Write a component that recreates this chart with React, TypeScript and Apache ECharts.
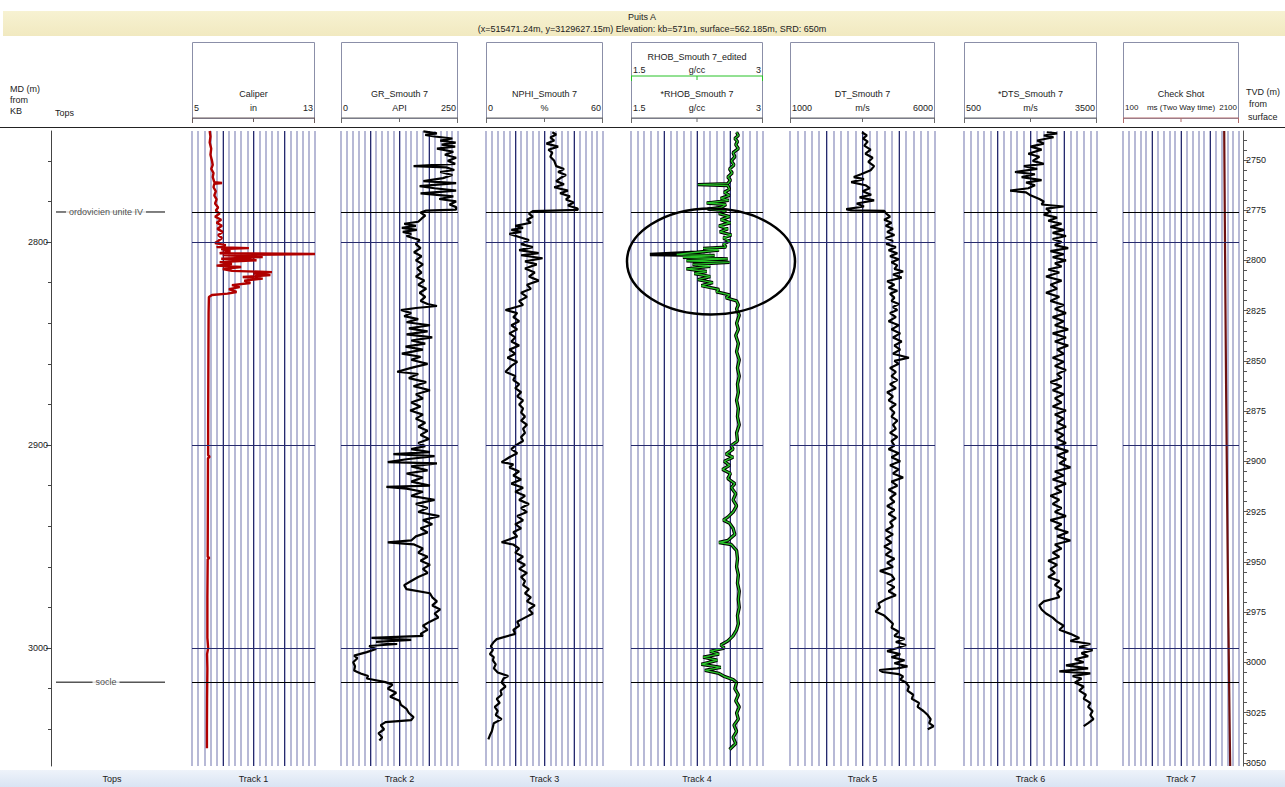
import React, { useEffect, useRef } from "react";
import * as echarts from "echarts";

const FONT = "'Liberation Sans Narrow', 'Liberation Sans', Arial, sans-serif";

// ---- well header ----
const wellName = "Puits A";
const wellInfo = "(x=515471.24m, y=3129627.15m) Elevation: kb=571m, surface=562.185m, SRD: 650m";

// ---- depth windows (m) ----
const mdWindow = [2745.3, 3058.1];
const tvdWindow = [2735.6, 3051.5];
const mdLabelValues = [2800, 2900, 3000];
const mdMinorValues = [2760, 2780, 2800, 2820, 2840, 2860, 2880, 2900, 2920, 2940, 2960, 2980, 3000, 3020, 3040];
const tvdLabelValues = [2750, 2775, 2800, 2825, 2850, 2875, 2900, 2925, 2950, 2975, 3000, 3025, 3050];
const tvdMinorValues: number[] = [];
for (let v = 2740; v <= 3050; v += 5) tvdMinorValues.push(v);

// ---- formation tops and reference depths (MD) ----
const topNames = ["ordovicien unite IV", "socle"];
const topDepths = [2785.2, 3016.8];
const refDepths = [2800, 2900, 3000];

// ---- track layout ----
const trackLeft = [192, 341, 486, 631, 790, 964, 1123];
const trackWidth = [123, 117, 117, 132, 145, 133, 116];
const trackNames = ["Track 1", "Track 2", "Track 3", "Track 4", "Track 5", "Track 6", "Track 7"];

// ---- curve scales ----
const curveTitles = ["Caliper", "GR_Smouth 7", "NPHI_Smouth 7", "*RHOB_Smouth 7", "DT_Smouth 7", "*DTS_Smouth 7", "Check Shot"];
const curveUnits = ["in", "API", "%", "g/cc", "m/s", "m/s", "ms (Two Way time)"];
const curveMin = [5, 0, 0, 1.5, 1000, 500, 100];
const curveMax = [13, 250, 60, 3, 6000, 3500, 2100];
const curveMinText = ["5", "0", "0", "1.5", "1000", "500", "100"];
const curveMaxText = ["13", "250", "60", "3", "6000", "3500", "2100"];
const curveColors = ["#b00000", "#000000", "#000000", "#000000", "#000000", "#000000", "#6e1010"];
const scaleColors = ["#6b5a5a", "#6a6a6a", "#6a6a6a", "#6a6a6a", "#6a6a6a", "#6a6a6a", "#b06a6a"];
const editedTitle = "RHOB_Smouth 7_edited";
const editedUnit = "g/cc";
const editedColor = "#27c227";

// ---- log curves: [MD (m), value] ----
const caliper: [number, number][] = [
  [2745.3, 6.15], [2748, 6.2], [2751, 6.15], [2754, 6.25], [2757, 6.2], [2760, 6.3], [2762, 6.35], [2764, 6.25],
  [2766, 6.4], [2768, 6.35], [2770.5, 6.45], [2770.9, 6.95], [2771.3, 6.45], [2773, 6.4], [2775, 6.55], [2777, 6.45],
  [2779, 6.6], [2781, 6.5], [2783, 6.7], [2784.5, 6.55], [2786, 6.8], [2787.5, 6.5], [2789, 6.9], [2790.5, 6.6],
  [2792, 6.95], [2793.5, 6.65], [2795, 7.0], [2796.5, 6.7], [2798, 6.95], [2799.5, 6.7], [2800.5, 6.5], [2801.5, 7.2],
  [2802.5, 6.6], [2803.0, 8.7], [2803.5, 6.9], [2804.5, 7.5], [2805.5, 6.8], [2805.9, 13.0], [2806.4, 7.0], [2807.4, 9.6],
  [2808.2, 6.9], [2809.0, 9.2], [2809.9, 6.8], [2810.8, 7.6], [2811.6, 6.6], [2812.3, 8.2], [2813.3, 7.0], [2814.2, 7.6],
  [2814.8, 10.2], [2815.5, 9.0], [2816.3, 10.1], [2817.2, 8.3], [2818.0, 9.6], [2819.0, 8.4], [2820.2, 8.8], [2821.2, 7.6],
  [2822.2, 8.1], [2823.2, 7.4], [2824.6, 7.9], [2825.4, 7.3], [2826.1, 6.3], [2827.1, 6.1], [2835, 6.08], [2850, 6.07],
  [2870, 6.06], [2890, 6.05], [2905, 6.05], [2905.8, 6.15], [2906.5, 6.04], [2930, 6.03], [2955, 6.02], [2955.6, 6.13],
  [2956.3, 6.02], [2975, 6.0], [2995, 6.0], [3000, 6.05], [3003, 5.98], [3010, 6.0], [3025, 5.98], [3040, 5.97], [3049.3, 5.97],
];

const gammaRay: [number, number][] = [
  [2745.5, 176], [2746.5, 205], [2747.2, 180], [2748.0, 200], [2749.0, 238], [2750.0, 212], [2751.0, 245], [2752.0, 215],
  [2753.0, 244], [2754.0, 205], [2755.5, 240], [2757.0, 222], [2758.5, 246], [2760.0, 228], [2761.5, 244], [2762.6, 155],
  [2763.2, 225], [2764.5, 242], [2765.5, 212], [2767.0, 238], [2768.5, 218], [2770.0, 176], [2771.0, 246], [2772.5, 168],
  [2773.5, 200], [2774.7, 246], [2776.0, 170], [2777.5, 240], [2778.8, 210], [2780.0, 246], [2781.5, 232], [2782.8, 246],
  [2784.0, 246], [2784.5, 182], [2785.5, 170], [2787.0, 180], [2788.5, 172], [2790.0, 165], [2791.0, 135], [2792.0, 160],
  [2793.0, 130], [2794.0, 162], [2795.0, 132], [2796.0, 150], [2797.0, 140], [2799.0, 168], [2801.0, 160], [2803.0, 170],
  [2805.0, 156], [2807.0, 172], [2809.0, 160], [2811.0, 175], [2813.0, 163], [2815.0, 172], [2817.0, 160], [2819.0, 178],
  [2821.0, 165], [2823.0, 182], [2825.0, 168], [2827.0, 180], [2829.0, 170], [2830.5, 185], [2831.5, 205], [2832.5, 160],
  [2833.5, 128], [2835.0, 150], [2836.5, 135], [2838.0, 165], [2839.5, 140], [2841.0, 190], [2842.5, 145], [2844.0, 185],
  [2845.5, 140], [2847.0, 195], [2848.5, 150], [2850.0, 180], [2851.5, 138], [2853.0, 175], [2855.0, 130], [2856.5, 170],
  [2858.0, 150], [2860.0, 185], [2862.0, 150], [2863.9, 120], [2865.0, 165], [2867.0, 145], [2869.0, 182], [2871.0, 155],
  [2873.0, 190], [2875.0, 160], [2877.0, 175], [2879.0, 150], [2881.0, 170], [2883.0, 148], [2885.0, 175], [2887.0, 160],
  [2889.0, 180], [2891.0, 165], [2893.0, 185], [2895.0, 170], [2897.0, 188], [2899.0, 165], [2900.5, 180], [2902.0, 150],
  [2903.5, 190], [2904.5, 112], [2905.5, 200], [2907.0, 140], [2908.4, 100], [2909.0, 205], [2910.5, 150], [2912.5, 185],
  [2914.0, 140], [2916.0, 175], [2918.0, 150], [2920.0, 190], [2920.6, 97], [2921.5, 140], [2923.0, 175], [2925.0, 150],
  [2927.0, 200], [2929.0, 160], [2931.0, 185], [2933.0, 165], [2935.0, 210], [2937.0, 175], [2939.0, 195], [2941.0, 170],
  [2943.0, 185], [2945.0, 160], [2947.0, 150], [2947.9, 100], [2948.9, 155], [2951.0, 175], [2953.0, 165], [2955.0, 185],
  [2957.0, 170], [2959.0, 190], [2961.0, 175], [2963.0, 185], [2965.0, 165], [2967.0, 150], [2969.0, 135], [2971.0, 140],
  [2973.0, 190], [2975.0, 195], [2977.0, 205], [2979.0, 195], [2981.0, 212], [2983.0, 200], [2985.0, 208], [2987.0, 190],
  [2989.0, 175], [2991.0, 185], [2993.0, 170], [2994.0, 175], [2995.0, 65], [2996.0, 150], [2997.0, 75], [2998.0, 120],
  [2999.0, 60], [3000.5, 75], [3002.0, 55], [3003.7, 28], [3005.0, 35], [3007.0, 26], [3009.0, 30], [3011.0, 28],
  [3012.5, 42], [3013.8, 58], [3015.0, 55], [3016.8, 95], [3018.0, 110], [3020.0, 100], [3022.0, 118], [3024.0, 105],
  [3026.0, 125], [3028.0, 128], [3030.0, 140], [3032.0, 145], [3034.0, 155], [3035.5, 150], [3036.5, 95], [3038.0, 85],
  [3040.0, 92], [3042.0, 80], [3044.0, 88], [3045.5, 82],
];

const neutron: [number, number][] = [
  [2745.9, 34], [2747.0, 36], [2748.5, 33], [2750.0, 35], [2751.5, 31], [2753.0, 37], [2754.5, 32], [2756.0, 34],
  [2758.0, 33], [2760.0, 35], [2762.6, 36], [2764.0, 40], [2765.5, 37], [2767.0, 41], [2768.6, 38], [2770.0, 36],
  [2771.5, 40], [2773.0, 35], [2774.7, 42], [2776.0, 38], [2777.5, 43], [2779.0, 41], [2780.5, 45], [2782.0, 42],
  [2783.5, 47], [2784.2, 47], [2784.5, 34], [2784.8, 24], [2786.0, 22], [2787.5, 24], [2789.0, 21], [2790.5, 23],
  [2792.0, 15], [2793.0, 19], [2794.0, 13], [2795.0, 18], [2796.0, 12], [2797.5, 17], [2799.0, 22], [2801.0, 18],
  [2802.5, 24], [2804.0, 17], [2805.5, 27], [2806.5, 18], [2808.0, 29], [2809.5, 20], [2811.0, 26], [2813.0, 20],
  [2815.0, 25], [2817.0, 22], [2819.0, 27], [2821.0, 21], [2823.0, 23], [2825.0, 18], [2827.0, 21], [2829.0, 17],
  [2831.0, 19], [2833.5, 10], [2835.0, 16], [2837.0, 14], [2839.0, 17], [2841.0, 13], [2843.0, 16], [2845.0, 12],
  [2847.0, 15], [2849.0, 13], [2851.0, 17], [2853.0, 12], [2855.0, 15], [2857.0, 11], [2859.0, 16], [2861.0, 13],
  [2863.9, 10], [2866.0, 15], [2868.0, 14], [2870.0, 17], [2872.0, 15], [2874.0, 18], [2876.0, 16], [2878.0, 19],
  [2880.0, 17], [2882.0, 19], [2884.0, 18], [2886.0, 20], [2888.0, 18], [2890.0, 21], [2892.0, 19], [2894.0, 20],
  [2896.0, 18], [2898.0, 19], [2900.3, 15], [2902.0, 13], [2904.0, 16], [2906.0, 12], [2908.4, 8], [2909.5, 14],
  [2911.0, 12], [2913.0, 17], [2915.0, 14], [2917.0, 18], [2919.0, 13], [2921.0, 19], [2923.0, 15], [2925.0, 20],
  [2927.0, 17], [2929.0, 22], [2931.0, 18], [2933.0, 21], [2935.0, 16], [2937.0, 19], [2939.0, 15], [2941.0, 18],
  [2943.0, 14], [2945.0, 16], [2947.9, 8], [2949.0, 14], [2951.0, 17], [2953.0, 15], [2955.0, 19], [2957.0, 16],
  [2959.0, 20], [2961.0, 17], [2963.0, 21], [2965.0, 18], [2967.0, 20], [2969.0, 19], [2971.0, 22], [2973.0, 20],
  [2975.0, 23], [2977.0, 21], [2979.0, 25], [2981.0, 22], [2983.0, 24], [2985.0, 20], [2987.0, 16], [2989.0, 17],
  [2991.0, 14], [2993.0, 15], [2995.6, 5.5], [2997.0, 4], [2999.0, 2.5], [3001.0, 3.5], [3003.0, 2], [3004.5, 4],
  [3006.0, 3.5], [3008.0, 5], [3010.0, 4], [3012.0, 6], [3013.8, 11.4], [3015.0, 9], [3017.0, 8], [3019.0, 10],
  [3021.0, 7.5], [3023.0, 8], [3025.0, 5.5], [3027.0, 7], [3029.0, 4.5], [3031.0, 6], [3033.0, 5], [3035.0, 8],
  [3037.0, 4], [3039.0, 3.5], [3041.0, 3], [3043.0, 2], [3045.0, 1.2],
];

const density: [number, number][] = [
  [2745.9, 2.70], [2747.5, 2.72], [2749.0, 2.68], [2750.5, 2.71], [2752.0, 2.69], [2754.0, 2.72], [2756.0, 2.66], [2758.0, 2.68],
  [2760.0, 2.64], [2762.0, 2.67], [2764.0, 2.62], [2766.0, 2.65], [2768.0, 2.60], [2769.5, 2.63], [2771.2, 2.60], [2771.7, 2.26],
  [2772.2, 2.60], [2774.0, 2.62], [2775.5, 2.56], [2777.0, 2.62], [2778.5, 2.52], [2779.5, 2.61], [2780.8, 2.36], [2781.5, 2.58],
  [2783.0, 2.52], [2783.8, 2.37], [2784.5, 2.58], [2786.0, 2.50], [2787.5, 2.62], [2789.0, 2.52], [2790.5, 2.63], [2792.0, 2.50],
  [2793.5, 2.60], [2795.0, 2.51], [2796.5, 2.64], [2798.0, 2.55], [2799.5, 2.62], [2801.0, 2.55], [2802.5, 2.58], [2803.1, 2.32],
  [2804.0, 2.50], [2805.0, 2.25], [2806.1, 1.715], [2806.6, 2.45], [2807.5, 2.09], [2808.3, 2.60], [2809.2, 2.13], [2810.0, 2.62],
  [2811.0, 2.20], [2812.0, 2.40], [2813.2, 2.13], [2814.5, 2.36], [2815.5, 2.22], [2817.0, 2.40], [2818.5, 2.26], [2820.0, 2.43],
  [2821.5, 2.30], [2823.3, 2.50], [2824.5, 2.47], [2826.0, 2.62], [2827.5, 2.58], [2829.0, 2.70], [2831.0, 2.72], [2833.0, 2.70],
  [2836.0, 2.73], [2840.0, 2.70], [2843.0, 2.72], [2846.0, 2.69], [2850.0, 2.72], [2854.0, 2.70], [2858.0, 2.73], [2862.0, 2.71],
  [2866.0, 2.73], [2870.0, 2.71], [2874.0, 2.72], [2878.0, 2.70], [2882.0, 2.72], [2886.0, 2.71], [2890.0, 2.73], [2894.0, 2.70],
  [2898.0, 2.71], [2900.3, 2.64], [2902.0, 2.66], [2904.5, 2.58], [2906.0, 2.66], [2908.0, 2.56], [2910.0, 2.62], [2912.0, 2.54],
  [2914.0, 2.63], [2916.5, 2.60], [2919.0, 2.68], [2921.0, 2.64], [2924.0, 2.69], [2927.0, 2.66], [2930.0, 2.70], [2933.0, 2.66],
  [2935.5, 2.60], [2937.0, 2.55], [2938.5, 2.62], [2941.0, 2.66], [2944.0, 2.68], [2947.0, 2.60], [2948.0, 2.50], [2949.0, 2.64],
  [2952.0, 2.70], [2956.0, 2.71], [2960.0, 2.70], [2964.0, 2.72], [2968.0, 2.71], [2972.0, 2.73], [2976.0, 2.72], [2980.0, 2.73],
  [2984.0, 2.71], [2988.0, 2.72], [2991.0, 2.70], [2994.0, 2.66], [2996.5, 2.60], [2998.5, 2.52], [3000.0, 2.56], [3001.6, 2.40],
  [3003.0, 2.50], [3004.5, 2.32], [3006.0, 2.48], [3008.0, 2.30], [3009.5, 2.52], [3011.0, 2.34], [3012.5, 2.50], [3014.0, 2.56],
  [3015.5, 2.66], [3017.0, 2.70], [3020.0, 2.68], [3023.0, 2.72], [3026.0, 2.69], [3029.0, 2.73], [3032.0, 2.70], [3035.0, 2.72],
  [3038.0, 2.67], [3041.0, 2.70], [3044.0, 2.66], [3047.0, 2.69], [3050.0, 2.62],
];

// edited density: the washout spike replaced
const densityEdits: [number, number][] = [[2806.1, 2.02]];

const sonic: [number, number][] = [
  [2745.9, 3480], [2747.5, 3650], [2749.0, 3520], [2750.5, 3680], [2752.5, 3560], [2754.5, 3780], [2756.5, 3600], [2758.5, 3850],
  [2760.5, 3700], [2762.6, 3900], [2764.6, 3780], [2766.6, 3450], [2768.0, 3200], [2769.0, 3550], [2770.5, 3110], [2772.0, 3600],
  [2773.5, 3750], [2775.0, 3500], [2776.7, 3800], [2778.0, 3400], [2779.5, 3900], [2781.0, 3300], [2782.5, 3550], [2783.8, 2940],
  [2784.4, 3100], [2784.6, 4250], [2786.0, 4320], [2787.5, 4450], [2789.0, 4250], [2790.5, 4500], [2792.0, 4300], [2793.5, 4550],
  [2795.0, 4350], [2796.5, 4600], [2798.0, 4300], [2799.5, 4550], [2801.0, 4320], [2802.5, 4650], [2804.0, 4400], [2805.5, 4700],
  [2807.0, 4450], [2808.5, 4750], [2810.0, 4500], [2811.5, 4700], [2813.2, 4600], [2814.5, 4900], [2816.0, 4550], [2817.5, 4850],
  [2819.3, 4350], [2821.0, 4600], [2822.5, 4400], [2824.0, 4700], [2825.5, 4450], [2827.4, 4600], [2829.0, 4500], [2830.5, 4750],
  [2832.0, 4550], [2833.5, 4700], [2835.0, 4450], [2837.0, 4650], [2839.0, 4400], [2841.0, 4750], [2843.0, 4500], [2845.0, 4800],
  [2847.0, 4550], [2849.0, 4850], [2851.0, 4600], [2853.0, 4800], [2855.0, 4550], [2857.0, 5100], [2858.5, 4600], [2860.0, 4750],
  [2862.0, 4450], [2864.0, 4650], [2866.0, 4500], [2868.0, 4700], [2870.0, 4450], [2872.0, 4650], [2874.0, 4350], [2876.0, 4550],
  [2878.0, 4400], [2880.0, 4650], [2882.0, 4450], [2884.0, 4600], [2886.0, 4500], [2888.0, 4700], [2890.0, 4550], [2892.0, 4650],
  [2894.0, 4450], [2896.0, 4700], [2898.0, 4500], [2900.3, 4600], [2902.0, 4400], [2904.0, 4750], [2906.0, 4500], [2908.0, 4800],
  [2910.0, 4450], [2912.0, 4750], [2914.0, 4550], [2916.0, 4900], [2918.0, 4500], [2920.0, 4700], [2922.0, 4400], [2924.0, 4650],
  [2926.0, 4450], [2928.0, 4600], [2930.0, 4350], [2932.0, 4600], [2934.0, 4400], [2936.0, 4650], [2938.0, 4450], [2940.0, 4550],
  [2942.0, 4300], [2944.0, 4550], [2946.0, 4300], [2948.0, 4500], [2950.0, 4250], [2952.0, 4500], [2954.0, 4300], [2956.0, 4600],
  [2958.0, 4350], [2960.0, 4550], [2962.0, 4100], [2964.0, 4500], [2966.0, 4600], [2968.0, 4350], [2970.0, 4600], [2972.0, 4400],
  [2974.0, 4650], [2976.0, 4300], [2978.0, 4050], [2980.0, 4100], [2982.0, 3950], [2984.0, 4250], [2986.0, 4400], [2988.0, 4550],
  [2990.0, 4500], [2992.0, 4750], [2994.0, 4600], [2995.5, 4950], [2997.0, 4650], [2998.5, 5000], [3000.0, 4700], [3001.5, 4350],
  [3003.0, 4800], [3004.5, 4500], [3006.0, 4950], [3007.5, 4600], [3009.0, 5050], [3010.0, 4700], [3010.8, 4080], [3011.8, 4200],
  [3012.8, 4750], [3014.0, 4900], [3015.5, 4800], [3017.0, 5000], [3019.0, 5100], [3021.0, 5050], [3023.0, 5250], [3025.0, 5200],
  [3027.0, 5450], [3029.0, 5400], [3031.0, 5600], [3033.0, 5750], [3035.0, 5850], [3037.0, 5800], [3038.5, 5950], [3040.0, 5750],
];

const shearSonic: [number, number][] = [
  [2745.9, 2367], [2746.5, 2600], [2747.5, 2300], [2748.4, 2520], [2750.0, 2150], [2751.5, 2300], [2753.0, 2000], [2754.5, 2250],
  [2756.5, 1950], [2758.0, 2200], [2760.0, 2050], [2761.5, 2300], [2762.6, 1850], [2764.0, 2150], [2765.5, 1650], [2766.6, 2100],
  [2768.0, 1800], [2769.5, 2250], [2770.7, 1900], [2772.0, 2100], [2773.5, 1950], [2774.7, 1540], [2775.5, 1900], [2777.0, 2000],
  [2778.8, 2200], [2780.0, 2300], [2781.5, 2250], [2782.5, 2750], [2783.5, 2350], [2785.0, 2450], [2786.5, 2300], [2788.0, 2600],
  [2789.5, 2400], [2791.0, 2700], [2792.5, 2450], [2794.0, 2750], [2795.5, 2500], [2797.0, 2800], [2798.5, 2500], [2800.0, 2700],
  [2801.5, 2550], [2803.0, 2850], [2804.5, 2450], [2806.0, 2750], [2807.5, 2500], [2809.0, 2800], [2810.5, 2550], [2812.0, 2700],
  [2813.5, 2400], [2815.0, 2650], [2817.0, 2350], [2819.0, 2700], [2821.0, 2450], [2823.0, 2600], [2825.0, 2350], [2827.0, 2650],
  [2829.0, 2450], [2831.0, 2750], [2833.0, 2550], [2835.0, 2800], [2837.0, 2500], [2839.0, 2750], [2841.0, 2550], [2843.0, 2850],
  [2845.0, 2500], [2847.0, 2800], [2849.0, 2550], [2851.0, 2850], [2853.0, 2600], [2855.0, 2750], [2857.0, 2500], [2859.0, 2750],
  [2861.0, 2550], [2863.0, 2800], [2865.0, 2600], [2867.0, 2700], [2869.0, 2450], [2871.0, 2700], [2873.0, 2500], [2875.0, 2750],
  [2877.0, 2550], [2879.0, 2700], [2881.0, 2500], [2883.0, 2800], [2885.0, 2550], [2887.0, 2750], [2889.0, 2600], [2891.0, 2800],
  [2893.0, 2550], [2895.0, 2750], [2897.0, 2600], [2899.0, 2800], [2901.0, 2550], [2903.0, 2850], [2905.0, 2600], [2907.0, 2800],
  [2909.0, 2650], [2911.0, 2900], [2913.0, 2550], [2915.0, 2750], [2917.0, 2500], [2919.0, 2800], [2921.0, 2550], [2923.0, 2700],
  [2925.0, 2450], [2927.0, 2650], [2929.0, 2500], [2931.0, 2700], [2933.0, 2550], [2935.0, 2800], [2937.0, 2450], [2939.0, 2700],
  [2941.0, 2550], [2943.0, 2850], [2945.0, 2600], [2947.0, 2900], [2949.0, 2550], [2951.0, 2700], [2953.0, 2500], [2955.0, 2650],
  [2957.0, 2400], [2959.0, 2600], [2961.0, 2450], [2963.0, 2550], [2965.0, 2400], [2967.0, 2650], [2969.0, 2550], [2971.0, 2700],
  [2973.0, 2600], [2975.0, 2650], [2977.0, 2300], [2979.0, 2200], [2981.0, 2250], [2983.0, 2350], [2985.0, 2500], [2987.0, 2600],
  [2989.0, 2750], [2991.0, 2650], [2993.0, 2900], [2995.0, 3100], [2996.5, 2900], [2998.0, 3350], [2999.5, 3100], [3001.0, 3400],
  [3002.5, 3150], [3004.0, 3300], [3005.5, 3000], [3007.0, 3200], [3008.5, 2800], [3010.0, 3300], [3011.5, 2650], [3012.5, 3350],
  [3013.8, 2950], [3015.0, 3150], [3017.0, 3000], [3019.0, 3200], [3021.0, 3100], [3023.0, 3250], [3025.0, 3200], [3027.0, 3350],
  [3029.0, 3300], [3031.0, 3400], [3033.0, 3350], [3035.0, 3420], [3037.0, 3300], [3038.5, 3200],
];

const checkShot: [number, number][] = [
  [2745.3, 1845], [2790, 1856], [2830, 1866], [2870, 1877], [2910, 1890], [2950, 1903], [2990, 1918], [3030, 1935], [3058.1, 1948],
];

// ---- chart geometry ----
const PLOT_TOP = 131;
const PLOT_H = 635;
const HEAD_TOP = 42;
const HEAD_SCALE_Y = 118;
const NAVY = "#262a6c";
const LAVENDER = "#b7b9d6";

const toXY = (rows: [number, number][]) => rows.map(([d, v]) => [v, d]);
const plain = (v: number) => String(v);

function buildOption(): echarts.EChartsCoreOption {
  const grids: any[] = [];
  const xAxes: any[] = [];
  const yAxes: any[] = [];
  const series: any[] = [];

  const depthMarks = {
    symbol: ["none", "none"],
    silent: true,
    label: { show: false },
    data: [
      ...topDepths.map((d) => ({ yAxis: d, lineStyle: { color: "#000", width: 1, type: "solid" } })),
      ...refDepths.map((d) => ({ yAxis: d, lineStyle: { color: NAVY, width: 1, type: "solid" } })),
    ],
  };

  const editedDensity = density.map(([d, v]) => {
    const hit = densityEdits.find(([ed]) => ed === d);
    return [d, hit ? hit[1] : v] as [number, number];
  });
  const curves: [number, number][][] = [caliper, gammaRay, neutron, density, sonic, shearSonic, checkShot];

  trackLeft.forEach((left, i) => {
    grids.push({ left, top: PLOT_TOP, width: trackWidth[i], height: PLOT_H });
    xAxes.push({ gridIndex: i, type: "value", min: curveMin[i], max: curveMax[i], show: false });
    xAxes.push({
      gridIndex: i, type: "value", min: 0, max: 20, interval: 1,
      axisLine: { show: false }, axisTick: { show: false }, axisLabel: { show: false },
      splitLine: { show: true, lineStyle: { color: LAVENDER, width: 2 } },
    });
    xAxes.push({
      gridIndex: i, type: "value", min: 0, max: 4, interval: 1,
      axisLine: { show: false }, axisTick: { show: false }, axisLabel: { show: false },
      splitLine: { show: true, lineStyle: { color: ["rgba(0,0,0,0)", NAVY, NAVY, NAVY, "rgba(0,0,0,0)"], width: 1 } },
    });
    yAxes.push({ gridIndex: i, type: "value", min: mdWindow[0], max: mdWindow[1], inverse: true, show: false });

    if (i === 3) {
      series.push({
        type: "line", xAxisIndex: 3 * i, yAxisIndex: i, data: toXY(density), symbol: "none",
        lineStyle: { color: "#000", width: 3.4 }, z: 3, markLine: depthMarks,
      });
      series.push({
        type: "line", xAxisIndex: 3 * i, yAxisIndex: i, data: toXY(editedDensity), symbol: "none",
        lineStyle: { color: editedColor, width: 1.4 }, z: 4,
      });
    } else {
      series.push({
        type: "line", xAxisIndex: 3 * i, yAxisIndex: i, data: toXY(curves[i]), symbol: "none",
        lineStyle: { color: curveColors[i], width: i === 0 ? 2.4 : 2.2 }, z: 3, markLine: depthMarks,
      });
    }
  });

  // tops column with the MD axis
  const topsGrid = grids.length;
  grids.push({ left: 51, top: PLOT_TOP, width: 129, height: PLOT_H });
  xAxes.push({ gridIndex: topsGrid, type: "value", min: 0, max: 129, show: false });
  const topsX = xAxes.length - 1;
  const mdAxisBase = {
    gridIndex: topsGrid, type: "value", position: "left", min: mdWindow[0], max: mdWindow[1], inverse: true,
    splitLine: { show: false },
  };
  yAxes.push({
    ...mdAxisBase,
    axisLine: { show: true, lineStyle: { color: "#444", width: 1 } },
    axisTick: { show: true, length: 5, customValues: mdLabelValues, lineStyle: { color: "#444" } },
    axisLabel: { show: true, customValues: mdLabelValues, formatter: plain, fontSize: 9, color: "#222", margin: 3, fontFamily: FONT },
  });
  const mdY = yAxes.length - 1;
  yAxes.push({
    ...mdAxisBase,
    axisLine: { show: false },
    axisTick: { show: true, length: 3, customValues: mdMinorValues, lineStyle: { color: "#444" } },
    axisLabel: { show: false },
  });
  topNames.forEach((name, k) => {
    series.push({
      type: "line", xAxisIndex: topsX, yAxisIndex: mdY, symbol: "none", silent: true,
      data: [[5, topDepths[k]], [114, topDepths[k]]], lineStyle: { color: "#000", width: 1 }, z: 3,
    });
    series.push({
      type: "scatter", xAxisIndex: topsX, yAxisIndex: mdY, symbolSize: 0, silent: true, z: 5,
      data: [[55, topDepths[k]]],
      label: {
        show: true, position: "inside", formatter: name, fontSize: 9, color: "#222", fontFamily: FONT,
        backgroundColor: "#fff", padding: [0, 3],
      },
    });
  });

  // TVD axis on the right
  const tvdGrid = grids.length;
  grids.push({ left: 1243, top: PLOT_TOP, width: 1, height: PLOT_H });
  xAxes.push({ gridIndex: tvdGrid, type: "value", min: 0, max: 1, show: false });
  const tvdBase = {
    gridIndex: tvdGrid, type: "value", position: "right", min: tvdWindow[0], max: tvdWindow[1], inverse: true,
    splitLine: { show: false },
  };
  yAxes.push({
    ...tvdBase,
    axisLine: { show: true, lineStyle: { color: "#555", width: 1 } },
    axisTick: { show: true, length: 5, customValues: tvdLabelValues, lineStyle: { color: "#555" } },
    axisLabel: { show: true, customValues: tvdLabelValues, formatter: plain, fontSize: 9, color: "#222", margin: 2, fontFamily: FONT },
  });
  yAxes.push({
    ...tvdBase,
    axisLine: { show: false },
    axisTick: { show: true, length: 3, customValues: tvdMinorValues, lineStyle: { color: "#555" } },
    axisLabel: { show: false },
  });

  // ---- header graphics ----
  const txt = (text: string, x: number, y: number, align = "center", fill = "#222", size = 9) => ({
    type: "text", x, y, silent: true,
    style: { text, fill, font: `${size}px ${FONT}`, align, verticalAlign: "middle", textAlign: align, textVerticalAlign: "middle" },
  });
  const line = (x1: number, y1: number, x2: number, y2: number, stroke: string, lineWidth = 1) => ({
    type: "line", silent: true, shape: { x1, y1, x2, y2 }, style: { stroke, lineWidth },
  });
  const scaleBar = (x0: number, w: number, y: number, color: string) => [
    line(x0, y, x0 + w, y, color, 1),
    line(x0 + 0.5, y, x0 + 0.5, y + 5, color, 1),
    line(x0 + w / 2, y, x0 + w / 2, y + 4, color, 1),
    line(x0 + w - 0.5, y, x0 + w - 0.5, y + 5, color, 1),
  ];

  const graphics: any[] = [
    {
      type: "rect", silent: true, shape: { x: 3, y: 11, width: 1282, height: 25 },
      style: { fill: new echarts.graphic.LinearGradient(0, 0, 0, 1, [
        { offset: 0, color: "#f7f2d2" }, { offset: 1, color: "#f1e9c0" },
      ]) },
    },
    txt(wellName, 642, 17),
    txt(wellInfo, 652, 29),
    line(0, 127.5, 1285, 127.5, "#222", 1),
    txt("MD (m)", 10, 89, "left"),
    txt("from", 10, 100, "left"),
    txt("KB", 10, 111, "left"),
    txt("Tops", 55, 113, "left"),
    txt("TVD (m)", 1246, 92, "left"),
    txt("from", 1249, 104, "left"),
    txt("surface", 1248, 117, "left"),
  ];

  trackLeft.forEach((x0, i) => {
    const w = trackWidth[i];
    const cx = x0 + w / 2;
    graphics.push({
      type: "rect", silent: true, shape: { x: x0 + 0.5, y: HEAD_TOP + 0.5, width: w - 1, height: HEAD_SCALE_Y - HEAD_TOP },
      style: { fill: "none", stroke: "#8b8fa8", lineWidth: 1 },
    });
    graphics.push(txt(curveTitles[i], cx, 94));
    const small = curveUnits[i].length > 10 ? 8 : 9;
    graphics.push(txt(curveMinText[i], x0 + 2, 107.5, "left", "#222", small));
    graphics.push(txt(curveUnits[i], cx, 107.5, "center", "#222", small));
    graphics.push(txt(curveMaxText[i], x0 + w - 2, 107.5, "right", "#222", small));
    graphics.push(...scaleBar(x0, w, HEAD_SCALE_Y, scaleColors[i]));
    if (i === 3) {
      graphics.push(txt(editedTitle, cx, 57));
      graphics.push(txt(curveMinText[i], x0 + 2, 69.5, "left"));
      graphics.push(txt(editedUnit, cx, 69.5));
      graphics.push(txt(curveMaxText[i], x0 + w - 2, 69.5, "right"));
      graphics.push(...scaleBar(x0, w, 76, editedColor));
    }
  });

  // footer band
  graphics.push({
    type: "rect", silent: true, shape: { x: 0, y: 770, width: 1285, height: 17 },
    style: { fill: new echarts.graphic.LinearGradient(0, 0, 0, 1, [
      { offset: 0, color: "#eef3fa" }, { offset: 1, color: "#d9e4f3" },
    ]) },
  });
  graphics.push(txt("Tops", 112, 778.5));
  trackLeft.forEach((x0, i) => {
    graphics.push(txt(trackNames[i], x0 + trackWidth[i] / 2, 778.5));
  });

  // highlight ellipse around the density washout
  graphics.push({
    type: "ellipse", silent: true, z: 100,
    shape: { cx: 711, cy: 261.5, rx: 84, ry: 53 },
    style: { fill: "none", stroke: "#000", lineWidth: 2.5 },
  });

  return {
    animation: false,
    backgroundColor: "#ffffff",
    grid: grids,
    xAxis: xAxes,
    yAxis: yAxes,
    series,
    graphic: { elements: graphics },
  };
}

export default function App() {
  const ref = useRef<HTMLDivElement>(null);
  useEffect(() => {
    if (!ref.current) return;
    const chart = echarts.init(ref.current, null, { renderer: "svg" });
    chart.setOption(buildOption());
    return () => chart.dispose();
  }, []);
  return (
    <div
      ref={ref}
      style={{ position: "fixed", left: 0, top: 0, width: 1285, height: 787, background: "#fff" }}
    />
  );
}
